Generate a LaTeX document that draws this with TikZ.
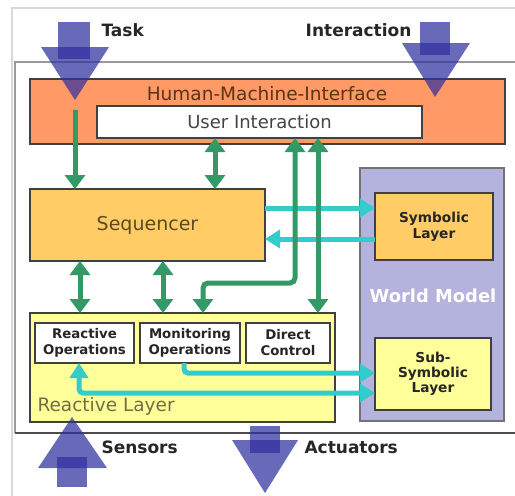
\documentclass[tikz,border=0pt]{standalone}
\usepackage{fontspec}
\setmainfont{DejaVu Sans}
\usetikzlibrary{arrows.meta}

\definecolor{hmiorange}{HTML}{FF9966}
\definecolor{seqorange}{HTML}{FFCC66}
\definecolor{paleyellow}{HTML}{FFFF99}
\definecolor{lavender}{HTML}{B3B3DD}
\definecolor{linkgreen}{HTML}{339966}
\definecolor{linkcyan}{HTML}{33CCCC}
\definecolor{flowblue}{HTML}{3030A0}
\definecolor{hmitext}{HTML}{5C3317}
\definecolor{seqtext}{HTML}{5C4A1E}
\definecolor{rltext}{HTML}{6E6E4A}
\definecolor{uitext}{HTML}{444444}

\begin{document}
\begin{tikzpicture}[x=1pt,y=-1pt,
  box/.style={draw=black!75, line width=1.2pt, anchor=north west,
              inner sep=0pt, outer sep=0pt},
  smallbox/.style={box, fill=white, minimum height=40pt, align=center,
              font=\bfseries\fontsize{13.3}{16}\selectfont, text=black!85},
  garrow/.style={draw=linkgreen, line width=5pt,
              >={Triangle[width=20pt,length=14pt]}},
  carrow/.style={draw=linkcyan, line width=5pt,
              >={Triangle[width=18pt,length=15pt]}},
  flow/.style={fill=flowblue, fill opacity=0.72},
  flowlabel/.style={font=\bfseries\fontsize{17}{20}\selectfont, text=black!85}]

\useasboundingbox (0,0) rectangle (515,496);
\fill[white] (0,0) rectangle (515,496);

% surrounding frames
\draw[draw=black!15, line width=1.5pt] (515,8) -- (12,8) -- (12,496);
\draw[draw=black!40, line width=1.5pt] (515,62) -- (15,62) -- (15,433);
\draw[draw=black!70, line width=2pt] (15,433) -- (515,433);

% Human-Machine-Interface
\node[box, fill=hmiorange, minimum width=475pt, minimum height=65pt] (hmi) at (30,79) {};
\node[font=\fontsize{18.5}{20}\selectfont, text=hmitext] (hmilabel) at (267,94) {Human-Machine-Interface};
\node[box, fill=white, minimum width=325pt, minimum height=32pt,
      font=\fontsize{18}{20}\selectfont, text=uitext] (ui) at (97,106) {User Interaction};

% Sequencer
\node[box, fill=seqorange, minimum width=235pt, minimum height=72pt,
      font=\fontsize{19}{21}\selectfont, text=seqtext] (seq) at (30,189) {Sequencer};

% World model
\node[box, fill=lavender, draw=black!55, minimum width=144pt, minimum height=253pt] (wm) at (360,168) {};
\node[font=\bfseries\fontsize{17.9}{20}\selectfont, text=white] (wmlabel) at (433,296) {World Model};
\node[box, fill=seqorange, minimum width=118pt, minimum height=67pt, align=center,
      font=\bfseries\fontsize{13.7}{16}\selectfont, text=black!85] (sym) at (375,193) {Symbolic\\Layer};
\node[box, fill=paleyellow, minimum width=116pt, minimum height=72pt, align=center,
      font=\bfseries\fontsize{13.7}{15}\selectfont, text=black!85] (sub) at (375,338) {Sub-\\Symbolic\\Layer};

% Reactive layer
\node[box, fill=paleyellow, minimum width=305pt, minimum height=109pt] (rl) at (30,313) {};
\node[anchor=west, font=\fontsize{18.5}{20}\selectfont, text=rltext] (rllabel) at (34,406) {Reactive Layer};
\node[smallbox, minimum width=99pt] (rops) at (35,323) {Reactive\\Operations};
\node[smallbox, minimum width=100pt] (mops) at (140,323) {Monitoring\\Operations};
\node[smallbox, minimum width=84pt] (dc) at (246,323) {Direct\\Control};

% guide coordinates for the connectors
\coordinate (taskin) at (75,110);
\coordinate (xb) at (215,0);
\coordinate (xd) at (295,0);
\coordinate (xe) at (203,0);
\coordinate (xf) at (318,0);
\coordinate (xg) at (80,0);
\coordinate (xh) at (163,0);
\coordinate (yk) at (0,283);
\coordinate (ya) at (0,208);
\coordinate (yb) at (0,239);
\coordinate (xm) at (184,0);
\coordinate (ym) at (0,373);
\coordinate (xr) at (79,0);
\coordinate (yr) at (0,393);

% data links to the world model
\draw[carrow,->] (seq.east |- ya) -- (sym.west |- ya);
\draw[carrow,->] (sym.west |- yb) -- (seq.east |- yb);
\draw[carrow,->,rounded corners=4pt] (xm |- mops.south) -- (xm |- ym) -- (sub.west |- ym);
\draw[carrow,<->,rounded corners=4pt] (xr |- rops.south) -- (xr |- yr) -- (sub.west |- yr);

% control links
\draw[garrow,->] (taskin) -- (taskin |- seq.north);
\draw[garrow,<->] (xb |- ui.south) -- (xb |- seq.north);
\draw[garrow,<->,rounded corners=5pt] (xd |- ui.south) -- (xd |- yk) -- (xe |- yk) -- (xe |- rl.north);
\draw[garrow,<->] (xf |- ui.south) -- (xf |- rl.north);
\draw[garrow,<->] (xg |- seq.south) -- (xg |- rl.north);
\draw[garrow,<->] (xh |- seq.south) -- (xh |- rl.north);

% external flows
\fill[flow] (58,22) rectangle (90,59);
\fill[flow] (41,47) -- (109,47) -- (75,100) -- cycle;
\fill[flow] (420,22) rectangle (450,55);
\fill[flow] (402,43) -- (470,43) -- (435,97) -- cycle;
\fill[flow] (57,457) rectangle (87,487);
\fill[flow] (38,468) -- (107,468) -- (72,417) -- cycle;
\fill[flow] (250,426) rectangle (280,453);
\fill[flow] (232,440) -- (298,440) -- (265,493) -- cycle;

\node[flowlabel, anchor=west] (task) at (98,30) {Task};
\node[flowlabel, anchor=east] (inter) at (415,30) {Interaction};
\node[flowlabel, anchor=west] (sens) at (98,447) {Sensors};
\node[flowlabel, anchor=west] (act) at (301,447) {Actuators};

\end{tikzpicture}
\end{document}
